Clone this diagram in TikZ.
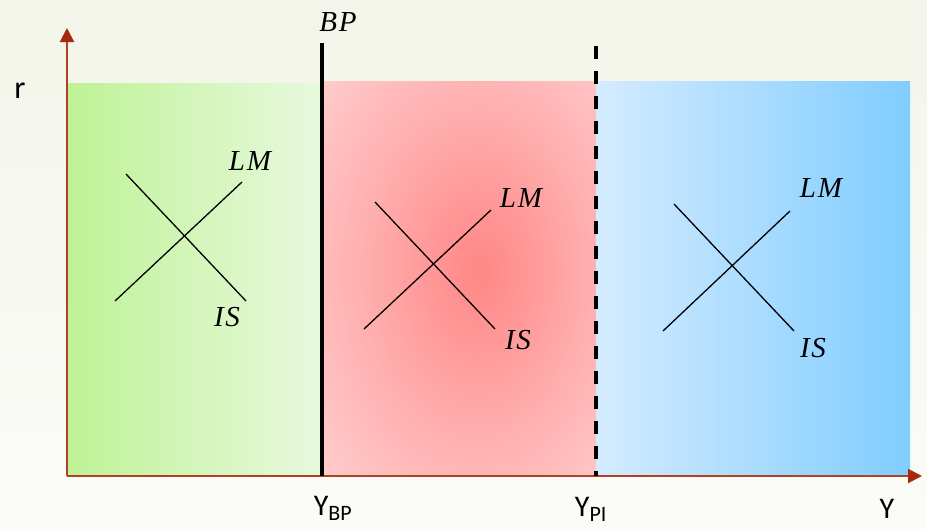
\documentclass[tikz,border=0pt]{standalone}
\usepackage{fontspec}
\setmainfont{Carlito}
\newfontfamily\varfont{Liberation Serif}[UprightFont=* Italic, LetterSpace=6]
\usetikzlibrary{arrows.meta}
\definecolor{bgtop}{RGB}{243,245,234}
\definecolor{bgbot}{RGB}{251,251,248}
\definecolor{axisc}{RGB}{176,66,36}
\definecolor{tipc}{RGB}{165,42,14}
\definecolor{gL}{RGB}{190,242,150}
\definecolor{gR}{RGB}{232,249,222}
\definecolor{rIn}{RGB}{255,134,134}
\definecolor{rOut}{RGB}{255,212,212}
\definecolor{bL}{RGB}{212,235,255}
\definecolor{bR}{RGB}{128,205,255}
\pgfdeclareradialshading{redglow}{\pgfpoint{4bp}{1bp}}{color(0bp)=(rIn); color(6bp)=(rIn!85!rOut); color(22bp)=(rIn!45!rOut); color(42bp)=(rOut); color(100bp)=(rOut)}
\tikzset{
  axis/.style={draw=axisc, line width=2pt, -{Triangle[length=14pt,width=14pt,color=tipc]}},
  curve/.style={draw=black, line width=1.3pt},
  mlabel/.style={inner sep=0pt, font=\varfont\fontsize{29}{32}\selectfont},
  slabel/.style={inner sep=0pt, anchor=base, font=\fontsize{30}{34}\selectfont},
  bpline/.style={draw=black, line width=3.2pt},
  piline/.style={draw=black, line width=3.4pt, dash pattern=on 13pt off 12pt}
}
\begin{document}
\begin{tikzpicture}[x=1pt,y=-1pt]
\useasboundingbox (0,0) rectangle (927,528);
\shade[top color=bgtop, bottom color=bgbot] (0,0) rectangle (927,528);
% panels
\shade[left color=gL, right color=gR] (67,83) rectangle (322,476);
\shade[shading=redglow] (322,81) rectangle (596,476);
\shade[left color=bL, right color=bR] (596,81) rectangle (910,476);
% axes
\coordinate (O) at (67,476);
\coordinate (ytip) at (67,28);
\coordinate (xtip) at (922,476);
\draw[axis] (O) -- (ytip);
\draw[axis] (O) -- (xtip);
% BP and PI lines
\coordinate (bpT) at (322,43);
\coordinate (bpB) at (322,476);
\coordinate (piT) at (596,46);
\coordinate (piB) at (596,476);
\draw[bpline] (bpB) -- (bpT);
\draw[piline] (piT) -- (piB);
% labels
\node[mlabel] (bp) at (338,22) {BP};
\node[inner sep=0pt, font=\fontsize{32}{36}\selectfont] (r) at (20,91) {r};
\node[slabel] (ybp) at (333,515) {Y\textsubscript{\fontsize{22}{24}\selectfont BP}};
\node[slabel] (ypi) at (591,516) {Y\textsubscript{\fontsize{22}{24}\selectfont PI}};
\node[slabel] (y) at (887,518) {Y};
% panel 1 cross
\coordinate (lm1a) at (115,301); \coordinate (lm1b) at (242,182);
\coordinate (is1a) at (126,174); \coordinate (is1b) at (246,301);
\draw[curve] (lm1a) -- (lm1b);
\draw[curve] (is1a) -- (is1b);
\node[mlabel] (LM1) at (250,161) {LM};
\node[mlabel] (IS1) at (227,317) {IS};
% panel 2 cross
\coordinate (lm2a) at (364,329); \coordinate (lm2b) at (491,210);
\coordinate (is2a) at (375,202); \coordinate (is2b) at (495,329);
\draw[curve] (lm2a) -- (lm2b);
\draw[curve] (is2a) -- (is2b);
\node[mlabel] (LM2) at (521,198) {LM};
\node[mlabel] (IS2) at (518,340) {IS};
% panel 3 cross
\coordinate (lm3a) at (663,331); \coordinate (lm3b) at (790,211);
\coordinate (is3a) at (674,204); \coordinate (is3b) at (794,331);
\draw[curve] (lm3a) -- (lm3b);
\draw[curve] (is3a) -- (is3b);
\node[mlabel] (LM3) at (821,188) {LM};
\node[mlabel] (IS3) at (813,348) {IS};
\end{tikzpicture}
\end{document}
